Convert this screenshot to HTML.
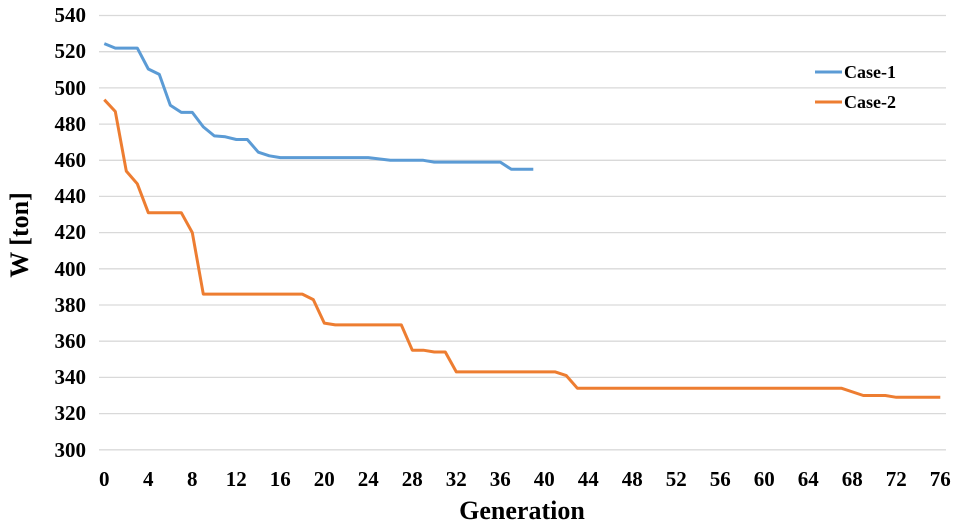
<!DOCTYPE html>
<html><head><meta charset="utf-8"><style>
html,body{margin:0;padding:0;background:#fff;}
svg{display:block;font-family:"Liberation Serif",serif;font-weight:bold;}
</style></head><body>
<svg width="957" height="527" xmlns="http://www.w3.org/2000/svg">
<g stroke="#d9d9d9" stroke-width="1.3">
<line x1="99" x2="946" y1="15.5" y2="15.5"/><line x1="99" x2="946" y1="51.7" y2="51.7"/>
<line x1="99" x2="946" y1="87.9" y2="87.9"/><line x1="99" x2="946" y1="124.1" y2="124.1"/>
<line x1="99" x2="946" y1="160.3" y2="160.3"/><line x1="99" x2="946" y1="196.4" y2="196.4"/>
<line x1="99" x2="946" y1="232.6" y2="232.6"/><line x1="99" x2="946" y1="268.8" y2="268.8"/>
<line x1="99" x2="946" y1="305" y2="305"/><line x1="99" x2="946" y1="341.2" y2="341.2"/>
<line x1="99" x2="946" y1="377.4" y2="377.4"/><line x1="99" x2="946" y1="413.6" y2="413.6"/>
<line x1="99" x2="946" y1="449.8" y2="449.8"/>
</g>
<g font-size="21" text-anchor="end" fill="#000">
<text x="86" y="22">540</text><text x="86" y="58">520</text><text x="86" y="95">500</text>
<text x="86" y="131">480</text><text x="86" y="167">460</text><text x="86" y="203">440</text>
<text x="86" y="239">420</text><text x="86" y="276">400</text><text x="86" y="312">380</text>
<text x="86" y="348">360</text><text x="86" y="384">340</text><text x="86" y="420">320</text>
<text x="86" y="457">300</text>
</g>
<g font-size="21" text-anchor="middle" fill="#000">
<text x="104.3" y="486">0</text><text x="148.3" y="486">4</text><text x="192.3" y="486">8</text>
<text x="236.3" y="486">12</text><text x="280.3" y="486">16</text><text x="324.3" y="486">20</text>
<text x="368.3" y="486">24</text><text x="412.3" y="486">28</text><text x="456.3" y="486">32</text>
<text x="500.3" y="486">36</text><text x="544.3" y="486">40</text><text x="588.3" y="486">44</text>
<text x="632.3" y="486">48</text><text x="676.3" y="486">52</text><text x="720.3" y="486">56</text>
<text x="764.3" y="486">60</text><text x="808.3" y="486">64</text><text x="852.3" y="486">68</text>
<text x="896.3" y="486">72</text><text x="940.3" y="486">76</text>
</g>
<text x="522" y="519" font-size="26" text-anchor="middle">Generation</text>
<text transform="translate(28,235) rotate(-90)" font-size="26" text-anchor="middle">W [ton]</text>
<polyline fill="none" stroke="#5b9bd5" stroke-width="3" stroke-linejoin="round" points="
104.3,43.6 115.3,48.1 137.3,48.1 148.3,69 159.3,74.4 170.3,105.2 181.3,112.4 192.3,112.4 203.3,126.9 214.3,135.9 225.3,136.8 236.3,139.5 247.3,139.5 258.3,152.2 269.3,155.8 280.3,157.6 368.3,157.6 390.3,160.3 423.3,160.3 434.3,162.1 500.3,162.1 511.3,169.3 533.3,169.3"/>
<polyline fill="none" stroke="#ed7d31" stroke-width="3" stroke-linejoin="round" points="
104.3,99.7 115.3,111.5 126.3,171.1 137.3,183.8 148.3,212.7 181.3,212.7 192.3,232.6 203.3,294.1 302.3,294.1 313.3,299.6 324.3,323.1 335.3,324.9 401.3,324.9 412.3,350.2 423.3,350.2 434.3,352 445.3,352 456.3,371.9 555.3,371.9 566.3,375.6 577.3,388.2 841.3,388.2 863.3,395.5 885.3,395.5 896.3,397.3 940.3,397.3"/>
<line x1="815" x2="842" y1="72" y2="72" stroke="#5b9bd5" stroke-width="3"/>
<line x1="815" x2="842" y1="102" y2="102" stroke="#ed7d31" stroke-width="3"/>
<text x="844" y="78" font-size="18">Case-1</text>
<text x="844" y="108" font-size="18">Case-2</text>
</svg>
</body></html>
